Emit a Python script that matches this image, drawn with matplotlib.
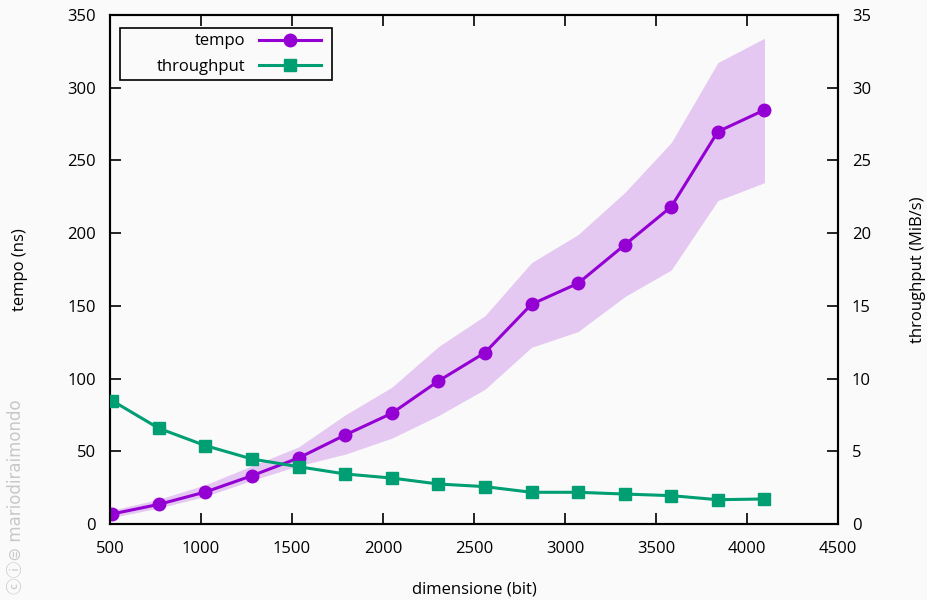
import matplotlib.pyplot as plt
from matplotlib.patches import Rectangle

# dati
dimensione = [512, 768, 1024, 1280, 1536, 1792, 2048, 2304, 2560, 2816, 3072, 3328, 3584, 3840, 4096]
tempo = [6.9, 13.5, 22, 33.2, 45.4, 61.2, 76.1, 98.3, 117.8, 151.1, 165.5, 191.9, 218.2, 269.8, 284.7]
tempo_max = [9.5, 17, 27, 40, 53, 75, 94, 121.9, 143.2, 179.7, 199, 227.9, 262.3, 317.3, 334]
tempo_min = [4.5, 11, 19, 30, 40, 48, 59, 74.5, 92.6, 121.5, 132.3, 156.3, 174.7, 222.4, 234.7]
throughput = [8.48, 6.58, 5.39, 4.47, 3.94, 3.44, 3.16, 2.75, 2.57, 2.18, 2.18, 2.06, 1.95, 1.67, 1.72]

viola = '#9400d3'
verde = '#009e73'
sfondo = '#fafafa'

plt.rcParams['font.family'] = ['Open Sans', 'DejaVu Sans']
plt.rcParams['font.size'] = 12

fig = plt.figure(figsize=(9.28, 6.0), dpi=100, facecolor=sfondo)
ax = fig.add_axes([110 / 928, 76 / 600, 728 / 928, 509 / 600], facecolor=sfondo)
ax2 = ax.twinx()

ax.fill_between(dimensione, tempo_min, tempo_max, color='#e4c8f2', lw=0, zorder=1)
l1, = ax.plot(dimensione, tempo, color=viola, lw=2.2, marker='o', ms=9, zorder=3, label='tempo')
l2, = ax2.plot(dimensione, throughput, color=verde, lw=2.2, marker='s', ms=9, zorder=3, label='throughput')

ax.set_xlim(500, 4500)
ax.set_ylim(0, 350)
ax2.set_ylim(0, 35)
ax.set_xticks(range(500, 4501, 500))
ax.set_yticks(range(0, 351, 50))
ax2.set_yticks(range(0, 36, 5))

ax.tick_params(axis='x', direction='in', length=8, width=1.2, top=True, pad=12)
ax.tick_params(axis='y', direction='in', length=8, width=1.2, right=False, pad=10)
ax2.tick_params(axis='y', direction='in', length=8, width=1.2, pad=10)
for a in (ax, ax2):
    for s in a.spines.values():
        s.set_linewidth(1.5)

ax.set_xlabel('dimensione (bit)', labelpad=18)
ax.set_ylabel('tempo (ns)', labelpad=28)
ax2.set_ylabel('throughput (MiB/s)', labelpad=28)

# riquadro della legenda (stile gnuplot)
ax2.add_patch(Rectangle((10 / 728, 1 - 65 / 509), 212 / 728, 52 / 509, transform=ax2.transAxes,
                        facecolor=sfondo, edgecolor='black', lw=1.2, zorder=5))
leg = ax2.legend(handles=[l1, l2], loc='center right', bbox_to_anchor=(211 / 728, 1 - 39 / 509),
                 markerfirst=False, frameon=False, handlelength=3.7, borderpad=0,
                 borderaxespad=0, labelspacing=0.55, handletextpad=0.85)
leg.set_zorder(6)
for t in leg.get_texts():
    t.set_ha('right')
leg._legend_box.align = 'right'

fig.text(16 / 928, 0.01, 'ⓒⓘ⊜ mariodiraimondo', rotation=90, color='#c8c8c8',
         fontsize=12, ha='center', va='bottom',
         family=['DejaVu Sans', 'Noto Sans CJK SC'])

fig.savefig('out.png', dpi=100, facecolor=sfondo)
